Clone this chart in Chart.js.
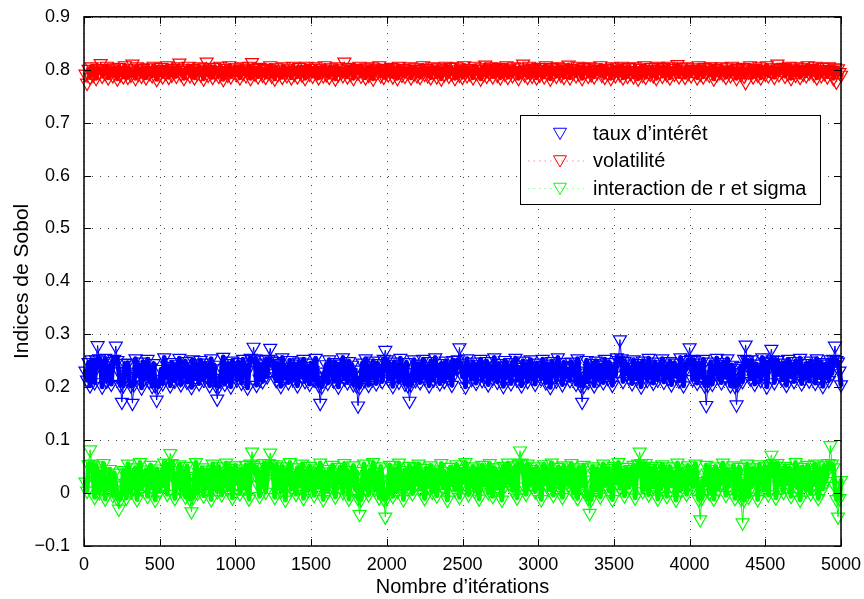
<!DOCTYPE html>
<html>
<head>
<meta charset="utf-8">
<script src="https://cdn.jsdelivr.net/npm/chart.js@4"></script>
<style>
  html, body { margin: 0; padding: 0; background: #fff; }
  canvas { display: block; }
</style>
</head>
<body>
<canvas id="sobolChart" width="864" height="599"></canvas>
<script>
// Sobol indices estimated along the Monte Carlo iterations (one value every 10 iterations)
const ITER_STEP = 10;

const seriesNames = ['taux d’intérêt', 'volatilité', 'interaction de r et sigma'];

const tauxInteret = [
  0.231,0.214,0.247,0.203,0.252,0.226,0.209,0.252,0.279,0.254,0.244,0.201,0.233,0.255,0.212,0.228,0.241,0.206,0.249,0.253,
  0.278,0.251,0.230,0.204,0.172,0.203,0.245,0.229,0.246,0.213,0.203,0.170,0.205,0.254,0.221,0.242,0.232,0.199,0.248,0.216,
  0.227,0.253,0.211,0.237,0.202,0.245,0.203,0.176,0.201,0.215,0.234,0.207,0.256,0.219,0.240,0.226,0.203,0.247,0.230,0.212,
  0.243,0.218,0.255,0.205,0.236,0.222,0.249,0.210,0.239,0.228,0.200,0.252,0.216,0.244,0.225,0.207,0.251,0.233,0.214,0.246,
  0.221,0.238,0.203,0.254,0.217,0.242,0.204,0.178,0.202,0.212,0.235,0.257,0.206,0.231,0.245,0.219,0.201,0.250,0.226,0.240,
  0.214,0.247,0.232,0.208,0.253,0.223,0.241,0.199,0.237,0.255,0.252,0.276,0.254,0.204,0.246,0.216,0.243,0.211,0.234,0.252,
  0.220,0.253,0.274,0.250,0.249,0.226,0.213,0.245,0.231,0.202,0.256,0.217,0.238,0.224,0.209,0.251,0.235,0.215,0.244,0.228,
  0.203,0.248,0.236,0.219,0.253,0.211,0.240,0.227,0.206,0.246,0.232,0.214,0.255,0.221,0.204,0.170,0.201,0.218,0.229,0.243,
  0.208,0.252,0.225,0.239,0.212,0.247,0.230,0.201,0.244,0.223,0.256,0.216,0.235,0.209,0.249,0.227,0.242,0.205,0.233,0.203,
  0.165,0.200,0.221,0.246,0.213,0.254,0.229,0.204,0.241,0.218,0.250,0.232,0.207,0.245,0.224,0.236,0.211,0.253,0.270,0.252,
  0.215,0.243,0.230,0.202,0.248,0.222,0.239,0.210,0.255,0.226,0.234,0.206,0.247,0.203,0.174,0.205,0.228,0.252,0.213,0.237,
  0.244,0.209,0.231,0.253,0.217,0.240,0.225,0.203,0.249,0.236,0.214,0.256,0.222,0.238,0.207,0.245,0.229,0.211,0.250,0.233,
  0.218,0.242,0.204,0.251,0.227,0.236,0.252,0.275,0.246,0.220,0.233,0.201,0.254,0.224,0.239,0.215,0.248,0.230,0.208,0.243,
  0.226,0.253,0.213,0.237,0.221,0.249,0.205,0.240,0.232,0.217,0.256,0.228,0.210,0.245,0.223,0.235,0.202,0.251,0.219,0.241,
  0.234,0.207,0.247,0.225,0.255,0.214,0.238,0.229,0.203,0.250,0.220,0.243,0.211,0.236,0.252,0.218,0.231,0.206,0.246,0.224,
  0.240,0.216,0.253,0.228,0.209,0.244,0.233,0.200,0.249,0.222,0.237,0.212,0.256,0.226,0.241,0.205,0.247,0.219,0.235,0.230,
  0.213,0.248,0.224,0.239,0.206,0.254,0.231,0.204,0.172,0.202,0.227,0.251,0.210,0.236,0.221,0.245,0.203,0.250,0.232,0.215,
  0.242,0.225,0.209,0.253,0.234,0.217,0.247,0.228,0.204,0.239,0.222,0.256,0.251,0.290,0.254,0.211,0.249,0.226,0.244,0.219,
  0.231,0.207,0.252,0.238,0.216,0.245,0.223,0.201,0.250,0.229,0.241,0.213,0.255,0.220,0.235,0.208,0.248,0.233,0.214,0.243,
  0.226,0.254,0.210,0.240,0.230,0.218,0.249,0.205,0.237,0.246,0.221,0.233,0.212,0.256,0.228,0.203,0.244,0.235,0.251,0.275,
  0.253,0.215,0.251,0.227,0.208,0.246,0.234,0.220,0.253,0.203,0.166,0.204,0.224,0.248,0.206,0.236,0.229,0.255,0.218,0.243,
  0.209,0.247,0.232,0.219,0.254,0.225,0.203,0.242,0.236,0.202,0.167,0.205,0.228,0.240,0.211,0.253,0.280,0.251,0.237,0.216,
  0.252,0.230,0.206,0.244,0.221,0.238,0.213,0.256,0.227,0.248,0.201,0.235,0.250,0.272,0.252,0.209,0.233,0.251,0.224,0.240,
  0.215,0.246,0.229,0.204,0.253,0.237,0.220,0.243,0.211,0.249,0.232,0.226,0.255,0.207,0.239,0.217,0.245,0.230,0.212,0.250,
  0.223,0.241,0.208,0.254,0.234,0.219,0.247,0.202,0.236,0.244,0.228,0.213,0.252,0.226,0.253,0.278,0.251,0.248,0.231,0.205
];

const volatilite = [
  0.792,0.775,0.801,0.786,0.806,0.790,0.798,0.784,0.803,0.795,0.812,0.788,0.800,0.793,0.807,0.785,0.797,0.802,0.789,0.804,
  0.796,0.783,0.805,0.791,0.799,0.787,0.808,0.794,0.786,0.802,0.790,0.811,0.797,0.784,0.806,0.792,0.800,0.788,0.803,0.795,
  0.785,0.804,0.793,0.799,0.789,0.807,0.796,0.782,0.801,0.791,0.805,0.787,0.798,0.794,0.808,0.786,0.800,0.790,0.803,0.797,
  0.788,0.806,0.813,0.792,0.799,0.784,0.802,0.795,0.807,0.789,0.797,0.803,0.785,0.800,0.793,0.806,0.791,0.798,0.783,0.804,
  0.815,0.790,0.801,0.796,0.786,0.805,0.793,0.799,0.788,0.807,0.794,0.782,0.803,0.797,0.790,0.808,0.787,0.800,0.795,0.804,
  0.791,0.798,0.785,0.806,0.793,0.802,0.789,0.796,0.807,0.784,0.814,0.799,0.792,0.803,0.787,0.805,0.795,0.790,0.801,0.786,
  0.803,0.794,0.808,0.788,0.797,0.783,0.804,0.791,0.800,0.796,0.786,0.806,0.793,0.789,0.802,0.798,0.785,0.807,0.792,0.799,
  0.787,0.805,0.795,0.790,0.801,0.784,0.807,0.797,0.792,0.803,0.788,0.799,0.806,0.794,0.785,0.802,0.796,0.789,0.808,0.791,
  0.800,0.786,0.804,0.793,0.798,0.783,0.806,0.791,0.802,0.795,0.789,0.815,0.797,0.787,0.805,0.792,0.801,0.784,0.799,0.803,
  0.794,0.807,0.788,0.800,0.796,0.785,0.804,0.790,0.798,0.806,0.783,0.802,0.793,0.797,0.808,0.789,0.801,0.786,0.795,0.803,
  0.791,0.799,0.805,0.787,0.802,0.794,0.784,0.807,0.796,0.790,0.803,0.788,0.800,0.795,0.806,0.785,0.798,0.792,0.804,0.789,
  0.801,0.786,0.797,0.808,0.792,0.803,0.789,0.799,0.785,0.806,0.794,0.800,0.787,0.804,0.796,0.783,0.802,0.791,0.807,0.795,
  0.788,0.805,0.793,0.800,0.784,0.806,0.797,0.790,0.802,0.786,0.808,0.795,0.789,0.803,0.792,0.799,0.785,0.807,0.794,0.801,
  0.796,0.783,0.804,0.791,0.809,0.788,0.800,0.794,0.806,0.787,0.798,0.803,0.790,0.805,0.785,0.801,0.797,0.792,0.808,0.786,
  0.802,0.795,0.789,0.806,0.793,0.799,0.784,0.804,0.797,0.811,0.791,0.800,0.786,0.807,0.794,0.788,0.803,0.798,0.785,0.805,
  0.790,0.801,0.796,0.787,0.808,0.793,0.799,0.783,0.805,0.792,0.802,0.788,0.806,0.795,0.790,0.804,0.786,0.800,0.797,0.809,
  0.785,0.803,0.794,0.800,0.789,0.807,0.792,0.798,0.784,0.805,0.796,0.802,0.788,0.806,0.791,0.799,0.787,0.804,0.795,0.801,
  0.808,0.790,0.797,0.786,0.803,0.793,0.800,0.784,0.806,0.795,0.789,0.804,0.798,0.791,0.807,0.785,0.802,0.796,0.788,0.805,
  0.793,0.799,0.787,0.806,0.794,0.783,0.803,0.797,0.790,0.808,0.786,0.801,0.795,0.792,0.805,0.789,0.800,0.784,0.807,0.796,
  0.802,0.788,0.805,0.795,0.791,0.807,0.785,0.799,0.803,0.792,0.797,0.810,0.787,0.804,0.794,0.800,0.786,0.806,0.793,0.798,
  0.789,0.804,0.796,0.801,0.785,0.808,0.792,0.799,0.787,0.805,0.794,0.802,0.790,0.806,0.797,0.783,0.803,0.791,0.800,0.795,
  0.806,0.792,0.798,0.786,0.804,0.795,0.789,0.807,0.793,0.800,0.784,0.803,0.797,0.791,0.805,0.788,0.776,0.802,0.796,0.808,
  0.794,0.787,0.803,0.799,0.790,0.806,0.785,0.801,0.796,0.792,0.808,0.789,0.800,0.795,0.804,0.786,0.798,0.811,0.791,0.803,
  0.797,0.805,0.788,0.800,0.793,0.807,0.784,0.802,0.795,0.790,0.806,0.799,0.786,0.804,0.792,0.801,0.789,0.808,0.794,0.798,
  0.803,0.791,0.807,0.785,0.800,0.796,0.789,0.805,0.793,0.801,0.787,0.806,0.794,0.799,0.784,0.804,0.777,0.802,0.795,0.790
];

const interactionRSigma = [
  0.021,0.004,0.054,0.082,0.055,0.035,-0.008,0.052,0.026,0.001,0.041,0.017,0.056,-0.011,0.030,0.009,0.045,0.023,-0.004,0.038,
  0.014,-0.010,-0.030,-0.012,0.006,0.043,0.019,-0.009,0.055,0.027,0.002,0.039,0.011,0.048,-0.012,0.024,0.058,0.008,0.036,0.016,
  0.044,-0.006,0.029,0.053,0.010,0.034,-0.013,0.046,0.020,0.003,0.040,0.015,0.057,0.025,-0.002,0.055,0.075,0.056,0.031,-0.010,
  0.037,0.022,0.054,0.005,0.042,0.018,-0.007,0.051,0.028,-0.011,-0.035,-0.008,0.032,0.058,0.000,0.039,0.016,0.048,-0.005,0.026,
  0.009,0.044,0.030,-0.012,0.055,0.019,0.036,0.003,0.050,0.024,-0.003,0.041,0.014,0.057,0.007,0.033,0.047,-0.009,0.027,0.052,
  0.018,0.038,-0.001,0.046,0.029,0.010,0.053,0.022,-0.011,0.055,0.078,0.053,0.035,0.049,0.015,-0.006,0.040,0.025,0.056,0.002,
  0.031,0.056,0.076,0.054,0.039,-0.008,0.054,0.020,0.034,0.004,0.050,0.027,-0.013,0.044,0.017,0.058,0.008,0.037,0.023,-0.002,
  0.048,0.013,0.033,0.055,-0.010,0.028,0.042,0.005,0.051,0.019,0.036,-0.004,0.046,0.024,0.011,0.057,0.030,-0.012,0.040,0.016,
  0.003,0.045,0.026,0.053,0.009,-0.007,0.038,0.021,0.049,0.032,0.001,0.056,0.014,0.043,-0.011,0.035,0.025,0.052,0.007,0.041,
  -0.010,-0.040,-0.012,0.029,0.055,0.010,0.036,-0.003,0.044,0.022,0.058,0.006,0.039,0.015,-0.009,0.050,0.027,-0.011,-0.045,-0.009,
  0.012,0.053,0.024,-0.006,0.046,0.031,0.004,0.057,0.019,0.038,-0.012,0.043,0.026,0.009,0.051,0.035,-0.001,0.048,0.016,0.030,
  0.055,0.008,0.040,0.022,-0.010,0.047,0.013,0.034,0.052,0.002,0.029,0.044,-0.005,0.037,0.018,0.056,0.010,0.041,0.025,-0.013,
  0.033,0.049,0.017,0.039,0.006,0.054,0.027,-0.008,0.045,0.020,0.036,0.058,0.011,-0.003,0.042,0.030,0.050,0.004,0.023,0.046,
  -0.011,0.035,0.053,0.015,0.028,0.043,0.001,0.056,0.021,-0.006,0.048,0.032,0.009,0.040,0.024,-0.013,0.051,0.014,0.037,0.057,
  0.019,0.044,0.005,0.031,0.052,-0.009,0.055,0.080,0.057,0.047,0.012,-0.002,0.055,0.034,0.016,0.045,0.029,0.003,0.050,0.022,
  0.041,-0.012,0.033,0.054,0.018,0.046,0.007,0.028,0.057,-0.004,0.039,0.023,0.049,0.010,0.035,-0.008,0.052,0.027,0.043,0.014,
  0.030,0.056,0.002,0.044,0.020,-0.010,0.048,0.034,0.013,0.053,0.025,-0.001,-0.010,-0.038,-0.012,0.050,0.037,0.006,0.046,0.024,
  -0.007,0.040,0.055,0.015,0.031,0.047,0.004,0.026,-0.012,0.051,0.036,0.019,0.058,0.009,0.043,0.022,-0.005,0.049,0.032,0.011,
  0.045,0.028,0.053,-0.009,0.038,0.055,0.078,0.056,0.003,0.030,0.056,0.020,-0.003,0.047,0.034,0.012,0.051,0.025,-0.011,0.039,
  0.008,0.054,0.027,0.044,-0.006,0.033,0.050,0.014,0.040,0.021,-0.013,0.057,0.031,0.005,0.046,0.024,0.036,-0.002,0.052,0.018,
  0.043,0.011,0.035,0.055,0.022,-0.012,-0.050,-0.010,0.029,0.015,0.053,0.038,0.000,0.045,0.026,-0.011,0.050,0.033,0.007,0.041,
  0.020,0.057,0.031,-0.004,0.046,0.013,0.039,0.024,0.052,-0.010,0.035,0.017,0.049,-0.011,-0.056,-0.013,0.028,0.055,-0.007,0.037,
  0.012,0.048,0.026,0.041,-0.012,0.054,0.019,0.034,0.006,0.050,0.030,-0.003,0.054,0.072,0.056,0.038,-0.009,0.056,0.015,0.043,
  0.028,0.002,0.051,0.036,0.017,0.047,-0.006,0.040,0.025,0.058,0.010,0.033,-0.013,0.049,0.021,0.044,0.005,0.053,0.031,-0.001,
  0.039,0.016,0.055,0.027,-0.010,0.046,0.034,0.008,0.052,0.022,0.042,0.056,0.090,0.055,0.048,0.013,-0.012,-0.045,-0.010,0.024
];

const xTickLabels = ['0', '500', '1000', '1500', '2000', '2500', '3000', '3500', '4000', '4500', '5000'];
const yTickLabels = ['\u22120.1', '0', '0.1', '0.2', '0.3', '0.4', '0.5', '0.6', '0.7', '0.8', '0.9'];

const FONT = 'Liberation Sans, Arial, Helvetica, sans-serif';
const colors = ['#0000ff', '#ff0000', '#00ff00'];
const legendLine = [false, true, true]; // first entry is shown as marker only
// core of each cloud: the trace is drawn thick inside it, thin towards stray points
const coreRange = [[0.197, 0.258], [0.780, 0.810], [-0.014, 0.059]];

const iterations = tauxInteret.map((_, i) => (i + 1) * ITER_STEP);

function makeDataset(label, values, color, core) {
    const inCore = v => v >= core[0] && v <= core[1];
    return {
        label: label,
        data: values.map((v, i) => ({ x: iterations[i], y: v })),
        showLine: true,
        borderColor: color,
        borderWidth: 5, // dense trace: consecutive segments merge into a solid band
        borderJoinStyle: 'round',
        borderCapStyle: 'round',
        segment: {
            borderWidth: c => (inCore(c.p0.parsed.y) && inCore(c.p1.parsed.y)) ? 5 : 1
        },
        tension: 0,
        fill: false,
        pointStyle: 'triangle',
        pointRotation: 180,
        pointRadius: 7.5,
        pointBorderWidth: 1.2,
        pointBorderColor: color,
        pointBackgroundColor: 'rgba(0,0,0,0)',
        clip: false
    };
}

// down triangle, same shape as Chart.js 'triangle' rotated 180deg
function drawTriangle(ctx, x, y, r) {
    ctx.beginPath();
    for (let k = 0; k < 3; k++) {
        const a = Math.PI + k * 2 * Math.PI / 3;
        const px = x + Math.sin(a) * r;
        const py = y - Math.cos(a) * r;
        if (k === 0) ctx.moveTo(px, py); else ctx.lineTo(px, py);
    }
    ctx.closePath();
    ctx.stroke();
}

// Matlab-like frame: dotted grid, boxed axes with inward ticks, legend and axis titles
const matlabAxes = {
    id: 'matlabAxes',
    beforeDatasetsDraw(chart) {
        const { ctx, chartArea: a, scales: { x, y } } = chart;
        ctx.save();
        ctx.strokeStyle = '#444';
        ctx.lineWidth = 1;
        ctx.setLineDash([1, 7]);
        x.ticks.forEach(t => {
            const px = Math.round(x.getPixelForValue(t.value)) + 0.5;
            ctx.beginPath();
            ctx.moveTo(px, a.bottom);
            ctx.lineTo(px, a.top);
            ctx.stroke();
        });
        y.ticks.forEach(t => {
            const py = Math.round(y.getPixelForValue(t.value)) + 0.5;
            ctx.beginPath();
            ctx.moveTo(a.left, py);
            ctx.lineTo(a.right, py);
            ctx.stroke();
        });
        ctx.restore();
    },
    afterDatasetsDraw(chart) {
        const { ctx, chartArea: a, scales: { x, y } } = chart;
        const tick = 7;
        ctx.save();
        ctx.strokeStyle = '#000';
        ctx.lineWidth = 1.5;
        ctx.strokeRect(a.left, a.top, a.right - a.left, a.bottom - a.top);

        ctx.lineWidth = 1;
        ctx.beginPath();
        x.ticks.forEach(t => {
            const px = Math.round(x.getPixelForValue(t.value)) + 0.5;
            ctx.moveTo(px, a.bottom); ctx.lineTo(px, a.bottom - tick);
            ctx.moveTo(px, a.top); ctx.lineTo(px, a.top + tick);
        });
        y.ticks.forEach(t => {
            const py = Math.round(y.getPixelForValue(t.value)) + 0.5;
            ctx.moveTo(a.left, py); ctx.lineTo(a.left + tick, py);
            ctx.moveTo(a.right, py); ctx.lineTo(a.right - tick, py);
        });
        ctx.stroke();

        // legend
        const box = { x: 520.5, y: 115.5, w: 300, h: 89 };
        const rows = [133, 160.5, 188];
        ctx.fillStyle = '#fff';
        ctx.fillRect(box.x, box.y, box.w, box.h);
        ctx.strokeStyle = '#000';
        ctx.lineWidth = 1;
        ctx.strokeRect(box.x, box.y, box.w, box.h);
        ctx.font = '20px ' + FONT;
        ctx.textBaseline = 'middle';
        chart.data.datasets.forEach((ds, i) => {
            const ry = rows[i];
            if (legendLine[i]) {
                ctx.save();
                ctx.globalAlpha = 0.45;
                ctx.strokeStyle = colors[i];
                ctx.setLineDash([1.5, 4]);
                ctx.beginPath();
                ctx.moveTo(528, ry + 0.5);
                ctx.lineTo(584, ry + 0.5);
                ctx.stroke();
                ctx.restore();
            }
            ctx.strokeStyle = colors[i];
            drawTriangle(ctx, 560, ry - 1, 7.5);
            ctx.fillStyle = '#000';
            ctx.fillText(ds.label, 593, ry + 1);
        });

        // axis titles
        ctx.fillStyle = '#000';
        ctx.font = '20px ' + FONT;
        ctx.textAlign = 'center';
        ctx.textBaseline = 'alphabetic';
        ctx.fillText('Nombre d’itérations', (a.left + a.right) / 2, 593);
        ctx.save();
        ctx.translate(28, (a.top + a.bottom) / 2);
        ctx.rotate(-Math.PI / 2);
        ctx.font = '21px ' + FONT;
        ctx.fillText('Indices de Sobol', 0, 0);
        ctx.restore();
        ctx.restore();
    }
};

const ctx = document.getElementById('sobolChart').getContext('2d');
new Chart(ctx, {
    type: 'line',
    data: {
        datasets: [
            makeDataset(seriesNames[0], tauxInteret, colors[0], coreRange[0]),
            makeDataset(seriesNames[1], volatilite, colors[1], coreRange[1]),
            makeDataset(seriesNames[2], interactionRSigma, colors[2], coreRange[2])
        ]
    },
    options: {
        responsive: false,
        animation: false,
        devicePixelRatio: 1,
        events: [],
        layout: { padding: { top: 15, right: 23, left: 0, bottom: 0 } },
        plugins: {
            legend: { display: false },
            tooltip: { enabled: false }
        },
        scales: {
            x: {
                type: 'linear',
                min: 0,
                max: 5000,
                grid: { display: false },
                border: { display: false },
                ticks: {
                    stepSize: 500,
                    autoSkip: false,
                    maxRotation: 0,
                    color: '#000',
                    padding: 0,
                    font: { family: FONT, size: 18 },
                    callback: (v, i) => xTickLabels[i]
                },
                afterFit: scale => { scale.height = 53; }
            },
            y: {
                type: 'linear',
                min: -0.1,
                max: 0.9,
                grid: { display: false },
                border: { display: false },
                ticks: {
                    stepSize: 0.1,
                    autoSkip: false,
                    color: '#000',
                    padding: 6,
                    font: { family: FONT, size: 18 },
                    callback: (v, i) => yTickLabels[i]
                },
                afterFit: scale => { scale.width = 84; }
            }
        }
    },
    plugins: [matlabAxes]
});
</script>
</body>
</html>
